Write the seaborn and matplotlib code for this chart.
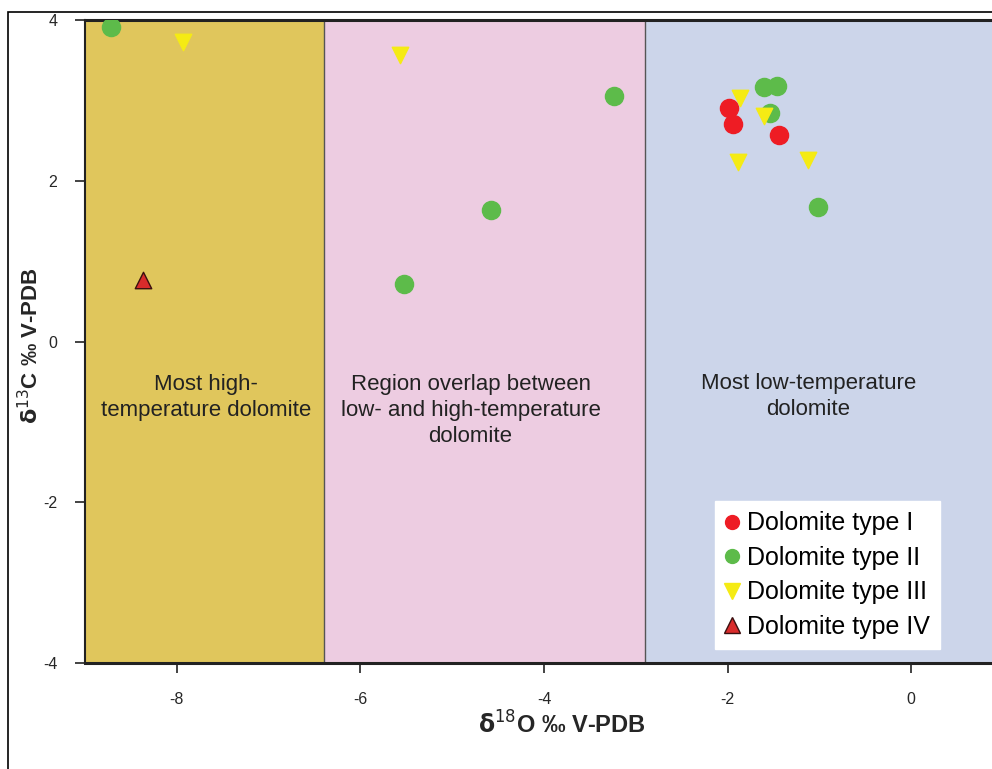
import matplotlib
matplotlib.use("Agg")
import matplotlib.pyplot as plt
import seaborn as sns
import pandas as pd
from matplotlib.lines import Line2D
from matplotlib.patches import Rectangle

sns.set_style("white")
plt.rcParams['font.family'] = ['Liberation Sans', 'DejaVu Sans']

# Data
type1_x = [-1.99, -1.94, -1.44]
type1_y = [2.91, 2.71, 2.57]
type2_x = [-8.72, -3.24, -4.58, -5.53, -1.60, -1.46, -1.54, -1.01]
type2_y = [3.91, 3.06, 1.63, 0.71, 3.17, 3.18, 2.84, 1.67]
type3_x = [-7.93, -5.57, -1.86, -1.60, -1.89, -1.12]
type3_y = [3.73, 3.57, 3.03, 2.80, 2.23, 2.26]
type4_x = [-8.37]
type4_y = [0.76]

labels = ["Dolomite type I", "Dolomite type II", "Dolomite type III", "Dolomite type IV"]
region_bounds = [-9.0, -6.4, -2.9, 0.88]
region_texts = ["Most high-\ntemperature dolomite",
                "Region overlap between\nlow- and high-temperature\ndolomite",
                "Most low-temperature\ndolomite"]
x_ticks = [-8, -6, -4, -2, 0]
y_ticks = [-4, -2, 0, 2, 4]

df = pd.concat([
    pd.DataFrame({"x": type1_x, "y": type1_y, "type": labels[0]}),
    pd.DataFrame({"x": type2_x, "y": type2_y, "type": labels[1]}),
    pd.DataFrame({"x": type3_x, "y": type3_y, "type": labels[2]}),
    pd.DataFrame({"x": type4_x, "y": type4_y, "type": labels[3]}),
], ignore_index=True)

fig = plt.figure(figsize=(9.92, 7.69), dpi=100)
ax = fig.add_axes([85/992, 1-663/769, 1-85/992, (663-20)/769])

region_colors = ["#E0C65C", "#EDCCE1", "#CCD5EA"]
for i in range(3):
    ax.axvspan(region_bounds[i], region_bounds[i+1], color=region_colors[i], zorder=0, lw=0)
for b in region_bounds[1:3]:
    ax.axvline(b, color="#555555", lw=1.0, zorder=1)

region_text_pos = [(-7.68, -0.70), (-4.80, -0.86), (-1.12, -0.68)]
for (tx, ty), t in zip(region_text_pos, region_texts):
    ax.text(tx, ty, t, ha="center", va="center", fontsize=16, color="#222222", linespacing=1.3)

colors = {labels[0]: "#EE1C24", labels[1]: "#5DBB4A", labels[2]: "#F5EB14", labels[3]: "#D92B2B"}
markers = {labels[0]: "o", labels[1]: "o", labels[2]: "v", labels[3]: "^"}
edges = {labels[0]: "#EE1C24", labels[1]: "#5DBB4A", labels[2]: "#F5EB14", labels[3]: "#3A1010"}
order = [labels[1], labels[2], labels[0], labels[3]]
for lab in order:
    sub = df[df["type"] == lab]
    sns.scatterplot(data=sub, x="x", y="y", ax=ax, color=colors[lab], marker=markers[lab],
                    s=170 if markers[lab] == "o" else 140, edgecolor=edges[lab],
                    linewidth=1.0, zorder=3, legend=False)

ax.set_xlim(region_bounds[0], region_bounds[-1])
ax.set_ylim(-4, 4)
ax.set_xticks(x_ticks)
ax.set_yticks(y_ticks)
narrow = ['Liberation Sans Narrow', 'Liberation Sans', 'DejaVu Sans']
ax.set_xticklabels([str(v) for v in x_ticks], fontsize=11.5, family=narrow)
ax.set_yticklabels([str(v) for v in y_ticks], fontsize=11.5, family=narrow)
ax.tick_params(axis="both", direction="out", length=7, width=1.2, color="#222222",
               bottom=True, left=True, top=False, right=False)
ax.tick_params(axis="x", pad=14)
ax.tick_params(axis="y", pad=13)

for s in ["top", "bottom", "left"]:
    ax.spines[s].set_visible(True)
    ax.spines[s].set_color("#222222")
ax.spines["top"].set_linewidth(2.2)
ax.spines["bottom"].set_linewidth(2.2)
ax.spines["left"].set_linewidth(1.5)
ax.spines["right"].set_visible(False)

ax.set_xlabel(r"$\mathbf{\delta}^{18}$O ‰ V-PDB", fontsize=17, fontweight="bold")
ax.xaxis.set_label_coords((562-85)/907, -(711-663)/643)
ax.set_ylabel(r"$\mathbf{\delta}^{13}$C ‰ V-PDB", fontsize=16, fontweight="bold")
ax.yaxis.set_label_coords(-(85-43)/907, (663-346)/643)

handles = [Line2D([], [], marker=markers[l], color="none", markerfacecolor=colors[l],
                  markeredgecolor=edges[l], markersize=12 if markers[l] != "o" else 10,
                  markeredgewidth=1.0) for l in labels]
leg = ax.legend(handles, labels, loc="lower right", bbox_to_anchor=(0.943, 0.022),
                fontsize=18, frameon=True, fancybox=False, framealpha=1.0,
                handlelength=0.6, handletextpad=0.3, labelspacing=0.42, borderpad=0.4,
                borderaxespad=0.0)
leg.get_frame().set_edgecolor("white")
leg.get_frame().set_facecolor("white")
for t in leg.get_texts():
    t.set_color("black")

fig.patches.append(Rectangle((8/992, -0.02), 1.0, 1-12/769+0.02, transform=fig.transFigure,
                             fill=False, edgecolor="black", lw=1.2, zorder=10))

fig.savefig("out.png", dpi=100)
